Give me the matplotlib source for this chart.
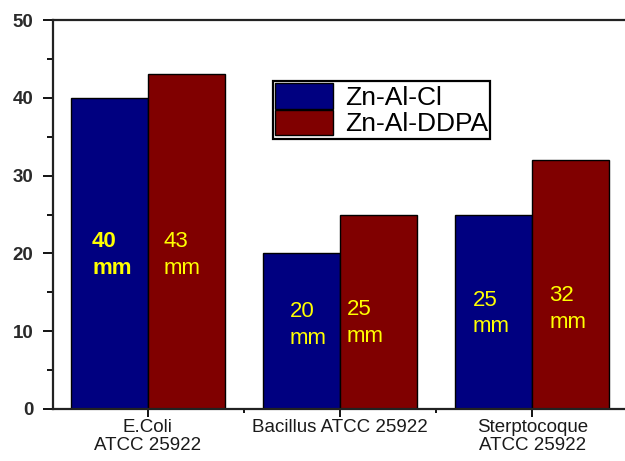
import numpy as np
import matplotlib.pyplot as plt
from matplotlib.ticker import MultipleLocator, FixedLocator

plt.rcParams['font.family'] = ['Liberation Sans', 'DejaVu Sans']

categories = ["E.Coli\nATCC 25922", "Bacillus ATCC 25922", "Sterptocoque\nATCC 25922"]
series_names = ["Zn-Al-Cl", "Zn-Al-DDPA"]
zn_al_cl = [40, 20, 25]
zn_al_ddpa = [43, 25, 32]
cl_labels = ["40\nmm", "20\nmm", "25\nmm"]
ddpa_labels = ["43\nmm", "25\nmm", "32\nmm"]

blue = "#000080"
red = "#800000"
yellow = "#ffff00"

fig = plt.figure(figsize=(6.25, 4.61), dpi=100)
ax = fig.add_axes([0.0843, 0.1128, 0.921, 0.8438])

x = np.arange(1, len(categories) + 1)
w = 0.40
ax.bar(x - w / 2, zn_al_cl, w, color=blue, edgecolor="black", linewidth=1.0, label=series_names[0])
ax.bar(x + w / 2, zn_al_ddpa, w, color=red, edgecolor="black", linewidth=1.0, label=series_names[1])

# value labels inside the bars (offsets)
cl_y = [19.8, 10.8, 12.3]
ddpa_y = [19.8, 11.05, 12.85]
cl_dx = [-0.29, -0.26, -0.31]
ddpa_dx = [0.08, 0.035, 0.09]
for i in range(len(categories)):
    ax.text(x[i] + cl_dx[i], cl_y[i], cl_labels[i], color=yellow,
            fontsize=16, ha="left", va="center", linespacing=1.32,
            fontweight="bold" if i == 0 else "normal")
    ax.text(x[i] + ddpa_dx[i], ddpa_y[i], ddpa_labels[i], color=yellow,
            fontsize=16, ha="left", va="center", linespacing=1.32)

ax.set_xlim(0.505, 3.5)
ax.set_ylim(0, 50)

ax.set_xticks(x)
ax.set_xticklabels(categories, fontsize=13.5, color="#1a1a1a", linespacing=1.1)
ax.xaxis.set_minor_locator(FixedLocator([1.5, 2.5]))
ax.yaxis.set_major_locator(MultipleLocator(10))
ax.yaxis.set_minor_locator(MultipleLocator(5))
ax.tick_params(axis="y", which="major", direction="out", length=7, width=1.3,
               labelsize=13.5, pad=7)
ax.tick_params(axis="y", which="minor", direction="out", length=4, width=1.3)
ax.tick_params(axis="x", which="major", direction="out", length=6, width=1.3, pad=1)
ax.tick_params(axis="x", which="minor", direction="out", length=3, width=1.3)
for lab in ax.get_yticklabels():
    lab.set_fontweight("bold")
    lab.set_color("#2a2a2a")

for s in ["left", "bottom", "top"]:
    ax.spines[s].set_linewidth(1.6)
    ax.spines[s].set_color("#222222")
ax.spines["right"].set_visible(False)

leg = ax.legend(loc="upper left", bbox_to_anchor=(0.3827, 0.843), fontsize=19,
                handlelength=2.2, handleheight=1.1, labelspacing=0.0,
                handletextpad=0.45, borderpad=0.08, borderaxespad=0.0,
                fancybox=False, edgecolor="black", framealpha=1)
leg.get_frame().set_linewidth(1.6)

plt.savefig("out.png", dpi=100)
